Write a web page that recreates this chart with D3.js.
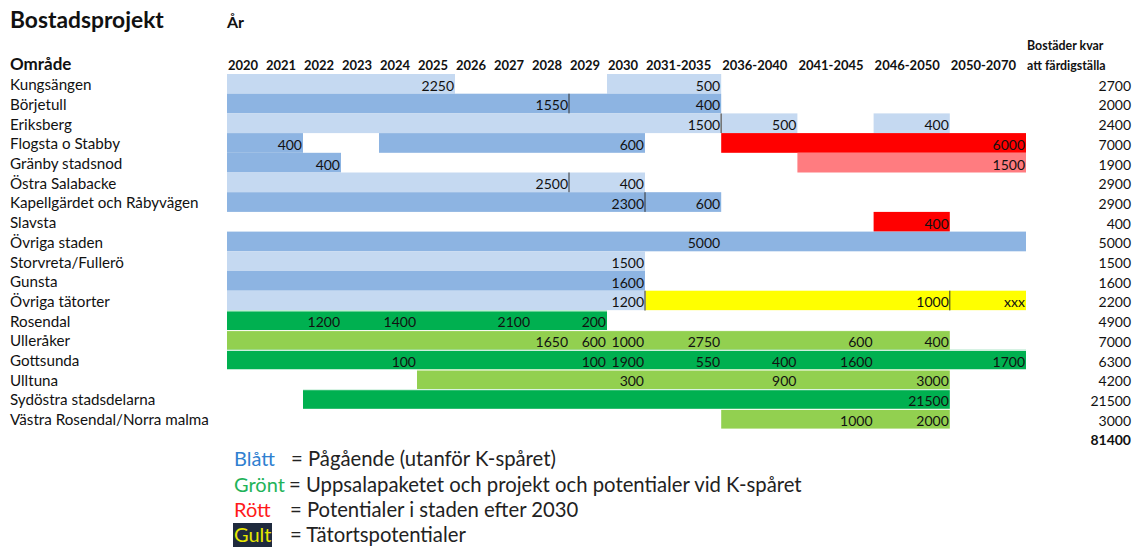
<!DOCTYPE html>
<html>
<head>
<meta charset="utf-8">
<script src="https://cdn.jsdelivr.net/npm/d3@7"></script>
<style>
  html, body { margin: 0; padding: 0; background: #fff; }
  svg { display: block; font-family: Lato, "Open Sans", sans-serif; }
</style>
</head>
<body>
<svg id="chart" width="1135" height="547"></svg>
<script>
// Time columns of the plan (single years, then five-year periods)
const periods = ["2020","2021","2022","2023","2024","2025","2026","2027","2028","2029","2030",
                 "2031-2035","2036-2040","2041-2045","2046-2050","2050-2070"];

// Areas, one row each
const areas = ["Kungsängen","Börjetull","Eriksberg","Flogsta o Stabby","Gränby stadsnod",
               "Östra Salabacke","Kapellgärdet och Råbyvägen","Slavsta","Övriga staden",
               "Storvreta/Fullerö","Gunsta","Övriga tätorter","Rosendal","Ulleråker",
               "Gottsunda","Ulltuna","Sydöstra stadsdelarna","Västra Rosendal/Norra malma"];

// Dwellings left to complete per area, and the sum
const remaining = [2700,2000,2400,7000,1900,2900,2900,400,5000,1500,1600,2200,4900,7000,6300,4200,21500,3000];
const remainingTotal = 81400;

// Build periods per area: [first period, last period, category]
const spans = [
  [["2020","2025","blueLight"],["2030","2031-2035","blueLight"]],
  [["2020","2031-2035","blue"]],
  [["2020","2031-2035","blueLight"],["2036-2040","2036-2040","blueLight"],["2046-2050","2046-2050","blueLight"]],
  [["2020","2021","blue"],["2024","2030","blue"],["2036-2040","2050-2070","red"]],
  [["2020","2022","blue"],["2041-2045","2050-2070","redLight"]],
  [["2020","2030","blueLight"]],
  [["2020","2031-2035","blue"]],
  [["2046-2050","2046-2050","red"]],
  [["2020","2050-2070","blue"]],
  [["2020","2030","blueLight"]],
  [["2020","2030","blue"]],
  [["2020","2030","blueLight"],["2031-2035","2050-2070","yellow"]],
  [["2020","2029","green"]],
  [["2020","2046-2050","greenLight"]],
  [["2020","2050-2070","green"]],
  [["2025","2046-2050","greenLight"]],
  [["2022","2046-2050","green"]],
  [["2036-2040","2046-2050","greenLight"]]
];

// Dwellings per period (written in the period's cell)
const cellValues = [
  [["2025","2250"],["2031-2035","500"]],
  [["2028","1550"],["2031-2035","400"]],
  [["2031-2035","1500"],["2036-2040","500"],["2046-2050","400"]],
  [["2021","400"],["2030","600"],["2050-2070","6000"]],
  [["2022","400"],["2050-2070","1500"]],
  [["2028","2500"],["2030","400"]],
  [["2030","2300"],["2031-2035","600"]],
  [["2046-2050","400"]],
  [["2031-2035","5000"]],
  [["2030","1500"]],
  [["2030","1600"]],
  [["2030","1200"],["2046-2050","1000"],["2050-2070","xxx"]],
  [["2022","1200"],["2024","1400"],["2027","2100"],["2029","200"]],
  [["2028","1650"],["2029","600"],["2030","1000"],["2031-2035","2750"],["2041-2045","600"],["2046-2050","400"]],
  [["2024","100"],["2029","100"],["2030","1900"],["2031-2035","550"],["2036-2040","400"],["2041-2045","1600"],["2050-2070","1700"]],
  [["2030","300"],["2036-2040","900"],["2046-2050","3000"]],
  [["2046-2050","21500"]],
  [["2041-2045","1000"],["2046-2050","2000"]]
];

// Cell borders: [area row, border placed before this period, tone]
const borders = [
  [1,"2029","dark"],[2,"2036-2040","grey"],[5,"2029","dark"],
  [6,"2031-2035","dark"],[11,"2031-2035","grey"],[11,"2050-2070","dark"]
];

// Legend entries
const legendKeys  = ["Blått","Grönt","Rött","Gult"];
const legendTexts = ["= Pågående (utanför K-spåret)",
                     "= Uppsalapaketet och projekt och potentialer vid K-spåret",
                     "= Potentialer i staden efter 2030",
                     "= Tätortspotentialer"];

const fills = {
  blueLight: "#c5d9f1", blue: "#8db4e2", red: "#ff0000", redLight: "#ff7c80",
  yellow: "#ffff00", green: "#00b050", greenLight: "#92d050"
};
const legendColors = ["#2f80d0", "#1fb35a", "#ff1a1a", "#e6e600"];

const svg = d3.select("#chart");

// Single years are narrow columns, the five-year periods wider ones
const xi = d3.scaleLinear().domain([0, 11, 16]).range([227, 645, 1026]);
const xStart = p => xi(periods.indexOf(p));
const xEnd   = p => xi(periods.indexOf(p) + 1);

const rowH = 19.7;
const y = d3.scaleBand().domain(d3.range(areas.length + 1))
  .range([74, 74 + rowH * (areas.length + 1)]).padding(0);

// Titles
svg.append("text").attr("x", 10).attr("y", 28)
  .attr("font-size", 22.8).attr("font-weight", 700).attr("fill", "#111").text("Bostadsprojekt");
svg.append("text").attr("x", 227).attr("y", 28)
  .attr("font-size", 16).attr("font-weight", 700).attr("fill", "#111").text("År");
svg.append("text").attr("x", 10).attr("y", 70)
  .attr("font-size", 17).attr("font-weight", 700).attr("fill", "#111").text("Område");

// Period headers
svg.append("g").selectAll("text").data(periods).join("text")
  .attr("x", d => xStart(d) + 1)
  .attr("y", 70)
  .attr("font-size", 13).attr("font-weight", 700).attr("fill", "#111")
  .text(d => d);

svg.append("text").attr("x", 1027).attr("font-size", 12.4).attr("font-weight", 700).attr("fill", "#111")
  .selectAll("tspan").data(["Bostäder kvar", "att färdigställa"]).join("tspan")
  .attr("x", 1027).attr("y", (d, i) => 50 + i * 20).text(d => d);

// Bars
const rows = svg.append("g");
areas.forEach((a, i) => {
  rows.append("g").selectAll("rect").data(spans[i]).join("rect")
    .attr("x", d => xStart(d[0]))
    .attr("width", d => xEnd(d[1]) - xStart(d[0]))
    .attr("y", y(i))
    .attr("height", y.bandwidth())
    .attr("fill", d => fills[d[2]]);
});

// Thin white grid lines between the green rows
svg.append("g").selectAll("line").data(d3.range(12, areas.length)).join("line")
  .attr("x1", xi(0)).attr("x2", xi(16))
  .attr("y1", i => y(i) + 0.5).attr("y2", i => y(i) + 0.5)
  .attr("stroke", "#fff").attr("stroke-width", 1);

// Cell borders
svg.append("g").selectAll("line").data(borders).join("line")
  .attr("x1", d => xStart(d[1])).attr("x2", d => xStart(d[1]))
  .attr("y1", d => y(d[0])).attr("y2", d => y(d[0]) + y.bandwidth())
  .attr("stroke", d => d[2] === "dark" ? "#333" : "#777")
  .attr("stroke-width", d => d[2] === "dark" ? 1 : 1.6);

// Area names
svg.append("g").selectAll("text").data(areas).join("text")
  .attr("x", 10).attr("y", (d, i) => y(i) + y.bandwidth() - 3.5)
  .attr("font-size", 15.2).attr("fill", "#111").text(d => d);

// Values written in the cells
areas.forEach((a, i) => {
  svg.append("g").selectAll("text").data(cellValues[i]).join("text")
    .attr("x", d => xEnd(d[0]) - 1)
    .attr("y", y(i) + y.bandwidth() - 3)
    .attr("text-anchor", "end")
    .attr("font-size", 14).attr("fill", "#111")
    .text(d => d[1]);
});

// Remaining dwellings column
svg.append("g").selectAll("text").data(remaining).join("text")
  .attr("x", 1131).attr("y", (d, i) => y(i) + y.bandwidth() - 3)
  .attr("text-anchor", "end").attr("font-size", 14).attr("fill", "#111")
  .text(d => d);
svg.append("text").attr("x", 1131).attr("y", y(areas.length) + y.bandwidth() - 3)
  .attr("text-anchor", "end").attr("font-size", 14).attr("font-weight", 700).attr("fill", "#111")
  .text(remainingTotal);

// Legend
const lg = svg.append("g");
const legendY = [466, 492, 517, 542];
lg.append("rect").attr("x", 233).attr("y", legendY[3] - 19).attr("width", 39).attr("height", 24)
  .attr("fill", "#1f2a3d");
lg.selectAll("text.key").data(legendKeys).join("text").attr("class", "key")
  .attr("x", 234).attr("y", (d, i) => legendY[i])
  .attr("font-size", 20).attr("fill", (d, i) => legendColors[i]).text(d => d);
lg.selectAll("text.desc").data(legendTexts).join("text").attr("class", "desc")
  .attr("x", (d, i) => [291, 289, 290, 290][i]).attr("y", (d, i) => legendY[i])
  .attr("font-size", 20.3).attr("fill", "#222").text(d => d);
</script>
</body>
</html>
